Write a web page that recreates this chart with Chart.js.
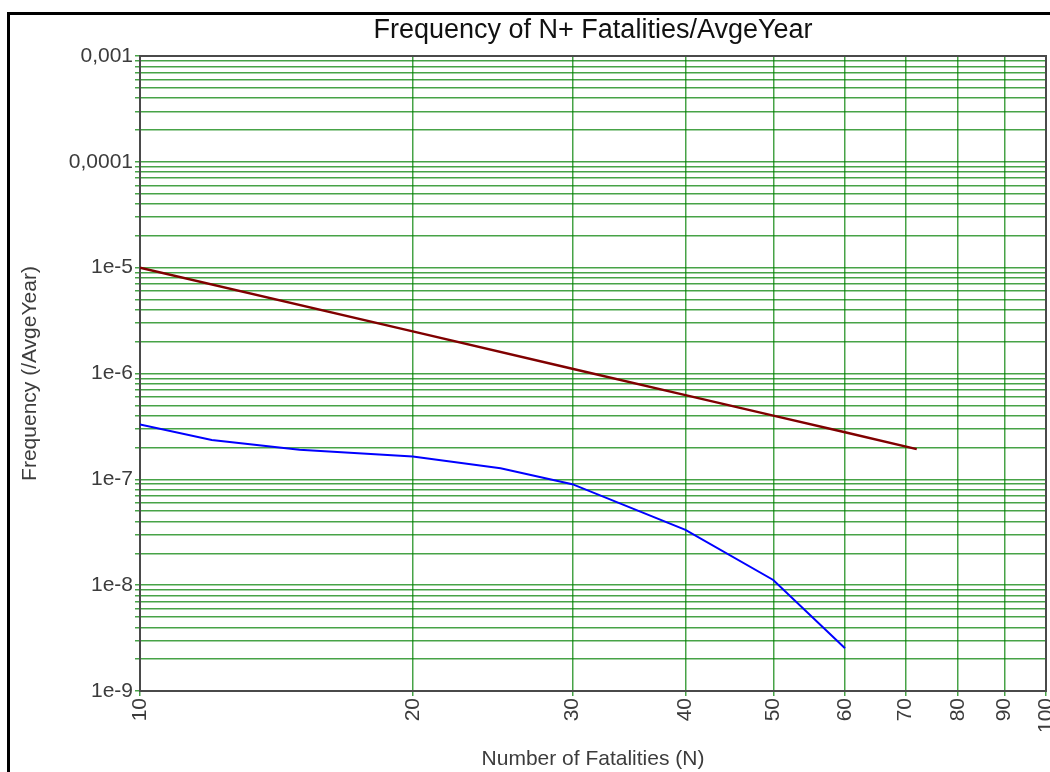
<!DOCTYPE html>
<html><head><meta charset="utf-8">
<script src="https://cdn.jsdelivr.net/npm/chart.js@4.4.1/dist/chart.umd.min.js"></script>
<style>
html,body{margin:0;padding:0;background:#fff;overflow:hidden;width:1050px;height:772px}
#wrap{position:relative;width:1050px;height:772px;overflow:hidden}
canvas{position:absolute;left:0;top:0}
#frame{position:absolute;left:7px;top:12px;width:1100px;height:800px;border:3px solid #000;pointer-events:none;box-sizing:border-box}
</style></head><body>
<div id="wrap"><canvas id="c" width="1050" height="772"></canvas><div id="frame"></div></div>
<script>
// ---- data ----
const titleText = 'Frequency of N+ Fatalities/AvgeYear';
const xAxisTitle = 'Number of Fatalities (N)';
const yAxisTitle = 'Frequency (/AvgeYear)';

// FN curve (blue)
const fnN    = [10, 12, 15, 20, 25, 30, 40, 50, 60];
const fnFreq = [3.3e-7, 2.35e-7, 1.9e-7, 1.64e-7, 1.27e-7, 9.0e-8, 3.33e-8, 1.12e-8, 2.54e-9];

// criterion line (dark red)
const critN    = [10, 20, 30, 40, 50, 60, 72];
const critFreq = [1e-5, 2.5e-6, 1.11e-6, 6.25e-7, 4.0e-7, 2.78e-7, 1.93e-7];

// ticks
const xTickValues = [10, 20, 30, 40, 50, 60, 70, 80, 90, 100];
const yDecades = [1e-9, 1e-8, 1e-7, 1e-6, 1e-5, 1e-4, 1e-3];
const yDecadeLabels = ['1e-9', '1e-8', '1e-7', '1e-6', '1e-5', '0,0001', '0,001'];
const yMinorSteps = [1, 2, 3, 4, 5, 6, 7, 8, 9];

// ---- styles ----
const FONT = "'Liberation Sans', Arial, sans-serif";
const gridColor = 'rgba(0,128,0,0.72)';
const labelColor = '#3c3c3c';

const yTickVals = [];
yDecades.forEach((d, i) => {
  if (i === yDecades.length - 1) { yTickVals.push(d); return; }
  yMinorSteps.forEach(m => yTickVals.push(d * m));
});
const yLabelMap = new Map(yDecades.map((d, i) => [d, yDecadeLabels[i]]));

const plotBox = {
  id: 'plotBox',
  beforeDatasetsDraw(chart) {
    const a = chart.chartArea, ctx = chart.ctx;
    ctx.save();
    ctx.strokeStyle = '#4a4a4a';
    ctx.lineWidth = 2;
    ctx.strokeRect(a.left, a.top, a.right - a.left, a.bottom - a.top);
    ctx.restore();
  }
};

new Chart(document.getElementById('c'), {
  type: 'line',
  data: {
    datasets: [
      {
        label: 'Criterion',
        data: critN.map((n, i) => ({x: n, y: critFreq[i]})),
        borderColor: '#800000',
        borderWidth: 2.5,
        pointRadius: 0,
        tension: 0
      },
      {
        label: 'FN curve',
        data: fnN.map((n, i) => ({x: n, y: fnFreq[i]})),
        borderColor: '#0000ff',
        borderWidth: 2,
        pointRadius: 0,
        tension: 0
      }
    ]
  },
  options: {
    responsive: false,
    animation: false,
    devicePixelRatio: 1,
    layout: {padding: {left: 0, right: 4, top: 0, bottom: 0}},
    plugins: {
      legend: {display: false},
      tooltip: {enabled: false},
      title: {
        display: true,
        fullSize: false,
        text: titleText,
        color: '#111',
        font: {family: FONT, size: 27, weight: 'normal', lineHeight: 1.2},
        padding: {top: 14.8, bottom: 8.8}
      }
    },
    scales: {
      x: {
        type: 'logarithmic',
        min: 10, max: 100,
        afterBuildTicks: s => { s.ticks = xTickValues.map(v => ({value: v})); },
        afterFit: s => { s.height = 81; s.paddingLeft = 0; s.paddingRight = 0; },
        ticks: {
          autoSkip: false, minRotation: 90, maxRotation: 90, padding: 2,
          color: labelColor, font: {family: FONT, size: 21},
          callback: v => String(v)
        },
        grid: {color: gridColor, lineWidth: 1.5, tickLength: 5, tickColor: gridColor},
        border: {display: false},
        title: {
          display: true, text: xAxisTitle, color: labelColor,
          font: {family: FONT, size: 21, lineHeight: 1.2},
          padding: {top: 0, bottom: 0}
        }
      },
      y: {
        type: 'logarithmic',
        min: 1e-9, max: 1e-3,
        afterBuildTicks: s => { s.ticks = yTickVals.map(v => ({value: v})); },
        afterFit: s => { s.width = 140; s.paddingTop = 0; s.paddingBottom = 0; },
        ticks: {
          autoSkip: false, padding: 2,
          color: labelColor, font: {family: FONT, size: 21},
          callback: v => (yLabelMap.has(v) ? yLabelMap.get(v) : '')
        },
        grid: {color: gridColor, lineWidth: 1.5, tickLength: 5, tickColor: gridColor},
        border: {display: false},
        title: {
          display: true, text: yAxisTitle, color: labelColor,
          font: {family: FONT, size: 21, lineHeight: 1.2},
          padding: {top: 17.4, bottom: 0}
        }
      }
    }
  },
  plugins: [plotBox]
});
</script>
</body></html>
